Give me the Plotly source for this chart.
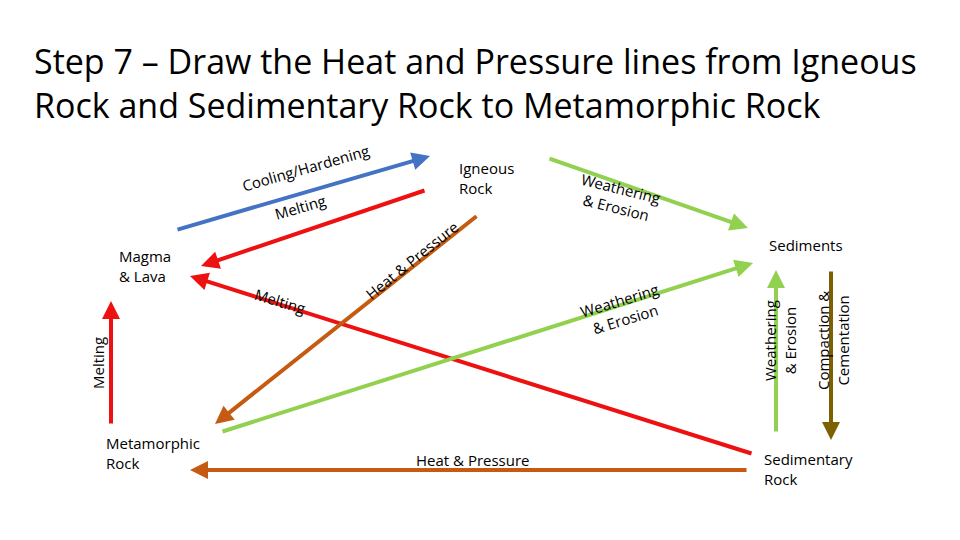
import plotly.graph_objects as go

# arrows: start -> end (in picture pixels), colour
arrow_x0 = [168, 418, 745, 470, 540, 213, 740, 103, 768, 823]
arrow_y0 = [222, 182, 446, 207, 150, 424, 462, 417, 425, 262]
arrow_x1 = [422, 193, 182, 207, 740, 745, 182, 103, 768, 823]
arrow_y1 = [148, 258, 268, 416, 220, 255, 462, 293, 262, 432]
arrow_col = ['#4472c4', '#ee1111', '#ee1111', '#c55a11', '#92d050',
             '#92d050', '#c55a11', '#ee1111', '#92d050', '#7f6000']

# process labels along arrows
lab_text = ['Cooling/Hardening', 'Melting', 'Melting', 'Heat & Pressure',
            'Weathering<br>& Erosion', 'Weathering<br>& Erosion', 'Heat & Pressure',
            'Melting', 'Weathering<br>& Erosion', 'Compaction &<br>Cementation']
lab_x = [297, 292, 272, 404, 610, 614, 465, 90, 772, 825]
lab_y = [160, 199, 293, 252, 190, 302, 452, 355, 333, 333]
lab_angle = [-16, -16, 17, -39, 14, -17, 0, -90, -90, -90]

# rock / stage names
node_text = ['Magma<br>& Lava', 'Igneous<br>Rock', 'Sediments',
             'Metamorphic<br>Rock', 'Sedimentary<br>Rock']
node_x = [137, 478, 798, 96, 754]
node_y = [258, 170, 237, 445, 461]
node_anchor = ['center', 'center', 'center', 'left', 'left']

fig = go.Figure()
fig.add_trace(go.Scatter(x=[0, 960], y=[0, 540], mode='markers',
                         marker=dict(opacity=0), hoverinfo='skip', showlegend=False))

ann = []
for i in range(len(arrow_x0)):
    ann.append(dict(x=arrow_x1[i], y=arrow_y1[i], ax=arrow_x0[i], ay=arrow_y0[i],
                    xref='x', yref='y', axref='x', ayref='y', text='',
                    showarrow=True, arrowhead=2, arrowsize=0.9, arrowwidth=4,
                    arrowcolor=arrow_col[i]))
for i in range(len(lab_text)):
    ann.append(dict(x=lab_x[i], y=lab_y[i], xref='x', yref='y', text=lab_text[i],
                    showarrow=False, textangle=lab_angle[i],
                    font=dict(size=15, color='black')))
for i in range(len(node_text)):
    ann.append(dict(x=node_x[i], y=node_y[i], xref='x', yref='y', text=node_text[i],
                    showarrow=False, xanchor=node_anchor[i], align='left',
                    font=dict(size=15, color='black')))
ann.append(dict(x=24, y=28, xref='x', yref='y', xanchor='left', yanchor='top',
                text='Step 7 – Draw the Heat and Pressure lines from Igneous<br>'
                     'Rock and Sedimentary Rock to Metamorphic Rock',
                showarrow=False, align='left',
                font=dict(size=34, color='black', family='Open Sans')))

fig.update_layout(width=960, height=540, margin=dict(l=0, r=0, t=0, b=0),
                  plot_bgcolor='white', paper_bgcolor='white',
                  font=dict(family='Open Sans'),
                  xaxis=dict(range=[0, 960], visible=False, fixedrange=True),
                  yaxis=dict(range=[540, 0], visible=False, fixedrange=True),
                  annotations=ann)
fig.write_html("out.html")
